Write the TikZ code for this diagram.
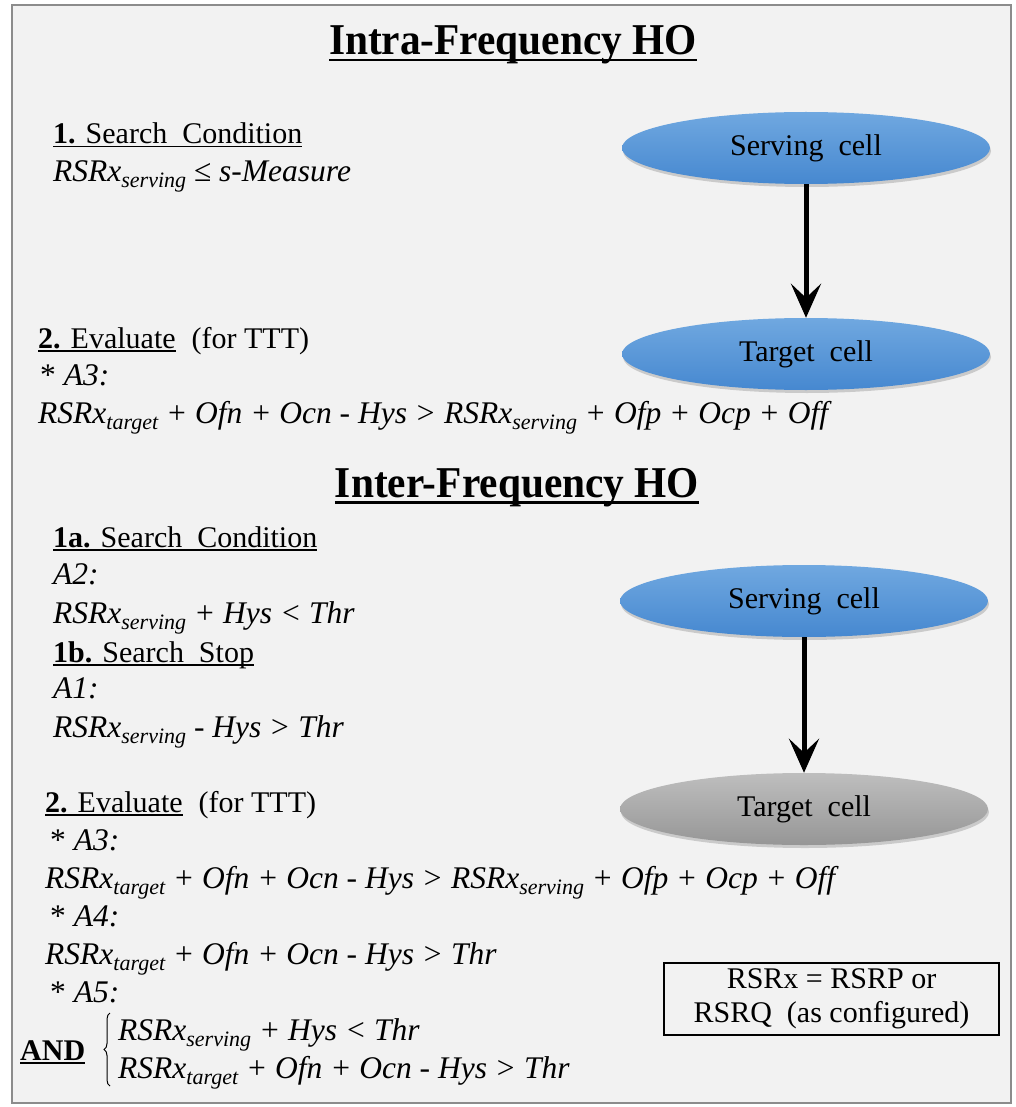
\documentclass[tikz,border=0pt]{standalone}
\usepackage{fontspec}
\usepackage{graphicx}
\setmainfont{Liberation Serif}
\usetikzlibrary{arrows.meta,shadows,shapes.geometric,decorations.pathreplacing}
\definecolor{bgc}{RGB}{242,242,242}
\definecolor{bordc}{RGB}{140,140,140}
\definecolor{cellblueT}{RGB}{112,168,224}
\definecolor{cellblueB}{RGB}{70,136,208}
\definecolor{cellgrayT}{RGB}{190,190,190}
\definecolor{cellgrayB}{RGB}{150,150,150}
\newcommand\myul[1]{\setbox0\hbox{#1}\rlap{\rule[-3.5pt]{\wd0}{1.5pt}}\box0}
\newcommand\myult[1]{\setbox0\hbox{#1}\rlap{\rule[-6.5pt]{\wd0}{2.5pt}}\box0}
\newcommand\sbs[1]{\raisebox{-6pt}{\fontsize{22}{22}\selectfont #1}}
\newcommand\rs[1]{RSRx\sbs{#1}}
\begin{document}
\begin{tikzpicture}[x=1pt,y=-1pt,
  txt/.style={anchor=base west, inner sep=0pt, font=\fontsize{30}{36}\selectfont},
  eqn/.style={anchor=base west, inner sep=0pt, font=\fontsize{31.5}{36}\selectfont\itshape},
  ttl/.style={anchor=base, inner sep=0pt, font=\fontsize{44}{50}\selectfont\bfseries},
  cell/.style={ellipse, minimum width=368pt, minimum height=72pt, inner sep=0pt,
    font=\fontsize{30}{36}\selectfont,
    drop shadow={shadow xshift=1pt, shadow yshift=-3pt, opacity=0.35}},
  bluecell/.style={cell, top color=cellblueT, bottom color=cellblueB},
  graycell/.style={cell, top color=cellgrayT, bottom color=cellgrayB},
  flow/.style={line width=5pt, -{Stealth[length=34pt,width=30pt,inset=14pt]}},
  legend/.style={draw=black, line width=2pt, minimum width=335pt, minimum height=72pt,
    inner sep=0pt, align=center, font=\fontsize{30}{34}\selectfont},
]
\fill[white] (0,0) rectangle (1015,1107);
\draw[fill=bgc, draw=bordc, line width=2.5pt] (12,5) rectangle (1011,1103);
\useasboundingbox (0,0) rectangle (1015,1107);

% Intra-frequency
\node[ttl] (t1) at (513,55) {\scalebox{0.94}[1]{\myult{Intra-Frequency HO}}};
\node[txt] (i1) at (53,144) {\myul{\textbf{1.} Search\ \ Condition}};
\node[eqn] (i2) at (53,182) {\rs{serving} {\upshape ≤} s-Measure};
\node[txt] (i3) at (38,348) {\myul{\textbf{2.} Evaluate}\hspace{16pt}(for TTT)};
\node[eqn] (i4) at (40,385) {{\upshape *} A3:};
\node[eqn] (i5) at (38,423) {\rs{target} + Ofn + Ocn - Hys > \rs{serving} + Ofp + Ocp + Off};

\node[bluecell] (s1) at (806,148) {Serving\ \ cell};
\node[bluecell] (g1) at (806,354) {Target\ \ cell};
\draw[flow] (s1) -- (g1);

% Inter-frequency
\node[ttl] (t2) at (517,497) {\scalebox{0.94}[1]{\myult{Inter-Frequency HO}}};
\node[txt] (e1) at (53,547) {\myul{\textbf{1a.} Search\ \ Condition}};
\node[eqn] (e2) at (53,584) {A2:};
\node[eqn] (e3) at (53,623) {\rs{serving} + Hys < Thr};
\node[txt] (e4) at (53,662) {\myul{\textbf{1b.} Search\ \ Stop}};
\node[eqn] (e5) at (53,698) {A1:};
\node[eqn] (e6) at (53,737) {\rs{serving} - Hys > Thr};
\node[txt] (e7) at (45,812) {\myul{\textbf{2.} Evaluate}\hspace{16pt}(for TTT)};
\node[eqn] (e8) at (50,850) {{\upshape *} A3:};
\node[eqn] (e9) at (45,888) {\rs{target} + Ofn + Ocn - Hys > \rs{serving} + Ofp + Ocp + Off};
\node[eqn] (e10) at (50,926) {{\upshape *} A4:};
\node[eqn] (e11) at (45,964) {\rs{target} + Ofn + Ocn - Hys > Thr};
\node[eqn] (e12) at (50,1002) {{\upshape *} A5:};
\node[eqn] (e13) at (118,1040) {\rs{serving} + Hys < Thr};
\node[eqn] (e14) at (118,1078) {\rs{target} + Ofn + Ocn - Hys > Thr};
\node[txt] (and) at (20,1060) {\myul{\textbf{AND}}};
\coordinate (bt) at (110,1013);
\coordinate (bb) at (110,1086);
\draw[line width=1pt, decorate, decoration={brace, amplitude=6pt}] (bb) -- (bt);

\node[bluecell] (s2) at (804,601) {Serving\ \ cell};
\node[graycell] (g2) at (804,809) {Target\ \ cell};
\draw[flow] (s2) -- (g2);

\node[legend] (lg) at (831.5,999) {RSRx = RSRP or\\RSRQ\ \ (as configured)};
\end{tikzpicture}
\end{document}
